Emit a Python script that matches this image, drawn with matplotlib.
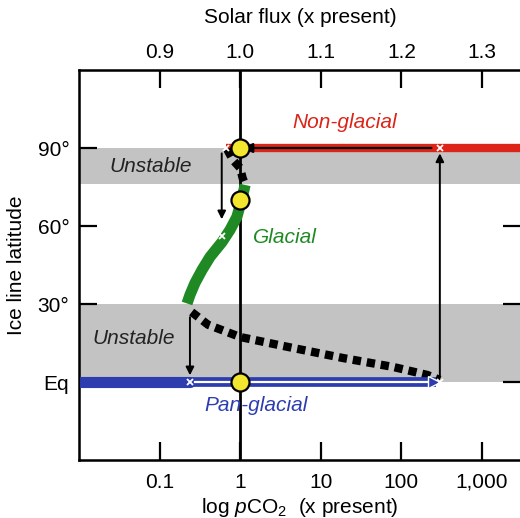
import numpy as np
import matplotlib
matplotlib.use("Agg")
import matplotlib.pyplot as plt

plt.rcParams['font.family'] = ['Liberation Sans', 'DejaVu Sans']
plt.rcParams['mathtext.fontset'] = 'custom'
plt.rcParams['mathtext.rm'] = 'Liberation Sans'
plt.rcParams['mathtext.it'] = 'Liberation Sans:italic'

# data (pCO2 in x present, latitude in degrees)
glacial_co2 = [1.15, 1.05, 0.91, 0.747, 0.594, 0.422, 0.336, 0.275, 0.238, 0.219]
glacial_lat = [75.8, 70.4, 63.5, 58.5, 53.8, 48.1, 43.1, 38.1, 33.5, 30.2]

unst_hi_co2 = [0.69, 0.81, 1.0, 1.07, 1.15]
unst_hi_lat = [89.5, 85.4, 82.3, 78.5, 76]

unst_lo_co2 = [0.25, 0.4, 1.0, 4.5, 19, 79, 210, 300]
unst_lo_lat = [26.9, 22, 17.3, 13.1, 9.2, 5.8, 2.7, 0.8]

co2_low_jump = 0.238    # glacial -> pan-glacial
co2_high_jump = 300     # pan-glacial -> non-glacial
co2_hi_drop = 0.59      # non-glacial -> glacial

present_co2 = [1, 1, 1]
present_lat = [90, 70, 0]

co2_ticks = [0.1, 1, 10, 100, 1000]
co2_labels = ['0.1', '1', '10', '100', '1,000']
flux_ticks = [0.9, 1.0, 1.1, 1.2, 1.3]
lat_ticks = [0, 30, 60, 90]
lat_labels = ['Eq', '30°', '60°', '90°']

red = '#dc2418'
green = '#1f8a24'
blue = '#2d3db0'
gray = '#c3c3c3'
yellow = '#f3e62e'

xmin, xmax = 0.01, 10 ** 3.484

fig = plt.figure(figsize=(5.2, 5.18), dpi=100)
ax = fig.add_axes([79 / 520, 58 / 518, 442 / 520, 390 / 518])
ax.set_xscale('log')
ax.set_xlim(xmin, xmax)
ax.set_ylim(-30, 120)

ax.axhspan(76, 90, color=gray, zorder=0, lw=0)
ax.axhspan(0, 30, color=gray, zorder=0, lw=0)

ax.axvline(1, color='black', lw=2, zorder=2)

# non-glacial branch
ax.plot([0.66, xmax], [90, 90], color=red, lw=6, solid_capstyle='butt', zorder=3)
ax.annotate('', xy=(1, 90), xytext=(co2_high_jump * 0.85, 90),
            arrowprops=dict(arrowstyle='-|>', color='black', lw=1.6,
                            mutation_scale=14), zorder=4)

# glacial branch
ax.plot(glacial_co2, glacial_lat, color=green, lw=8, solid_capstyle='butt', zorder=3)

# unstable branches
ax.plot(unst_hi_co2, unst_hi_lat, color='black', lw=6, ls=(0, (1, 0.7)),
        dash_capstyle='butt', zorder=3)
ax.plot(unst_lo_co2, unst_lo_lat, color='black', lw=6, ls=(0, (1, 0.7)),
        dash_capstyle='butt', zorder=3)

# pan-glacial branch
ax.plot([xmin, co2_low_jump], [0, 0], color=blue, lw=8, solid_capstyle='round', zorder=3)
ax.plot([co2_low_jump, co2_high_jump * 0.9], [0, 0], color=blue, lw=7,
        solid_capstyle='butt', zorder=3)
ax.plot([co2_low_jump * 1.15, co2_high_jump * 0.8], [0, 0], color='white', lw=1.6, zorder=3)
ax.plot([co2_high_jump * 0.85], [0], marker='>', color=blue, ms=9, mec='white', mew=1, zorder=3)

# jumps
ax.annotate('', xy=(co2_low_jump, 1.5), xytext=(co2_low_jump, 26),
            arrowprops=dict(arrowstyle='-|>', color='black', lw=1.4, mutation_scale=12),
            zorder=4)
ax.annotate('', xy=(co2_hi_drop, 61.5), xytext=(co2_hi_drop, 89),
            arrowprops=dict(arrowstyle='-|>', color='black', lw=1.4, mutation_scale=12),
            zorder=4)
ax.annotate('', xy=(co2_high_jump, 89), xytext=(co2_high_jump, 1),
            arrowprops=dict(arrowstyle='-|>', color='black', lw=1.4, mutation_scale=12),
            zorder=4)

# bifurcation points
ax.plot([co2_low_jump, co2_high_jump, 0.66, co2_high_jump, 0.594],
        [0, 0, 90, 90, 56], ls='none', marker='x', color='white', ms=5, mew=1.3, zorder=5)

ax.plot(present_co2, present_lat, ls='none', marker='o', ms=13, mfc=yellow,
        mec='black', mew=1.6, zorder=6)

ax.text(20, 100, 'Non-glacial', color=red, fontsize=15, style='italic', ha='center', va='center')
ax.text(0.078, 83, 'Unstable', color='#222222', fontsize=15, style='italic', ha='center', va='center')
ax.text(3.6, 55.4, 'Glacial', color=green, fontsize=15, style='italic', ha='center', va='center')
ax.text(0.048, 16.9, 'Unstable', color='#222222', fontsize=15, style='italic', ha='center', va='center')
ax.text(1.57, -9.2, 'Pan-glacial', color=blue, fontsize=15, style='italic', ha='center', va='center')

ax.set_xticks(co2_ticks)
ax.set_xticklabels(co2_labels)
ax.xaxis.set_minor_locator(matplotlib.ticker.NullLocator())
ax.set_yticks(lat_ticks)
ax.set_yticklabels(lat_labels)
ax.tick_params(axis='both', direction='in', length=13, width=1.6, labelsize=15,
               right=True, pad=7)
ax.tick_params(axis='x', pad=9)
for s in ax.spines.values():
    s.set_linewidth(1.8)

ax.set_xlabel('log $\\mathit{p}$CO$_2$  (x present)', fontsize=15, labelpad=3)
ax.set_ylabel('Ice line latitude', fontsize=15, labelpad=8)

top = ax.twiny()
top.set_xlim(1 + 0.1 * np.log10(xmin), 1 + 0.1 * np.log10(xmax))
top.set_xticks(flux_ticks)
top.set_xticklabels(['%.1f' % f for f in flux_ticks])
top.tick_params(axis='x', direction='in', length=13, width=1.6, labelsize=15, pad=6)
top.set_xlabel('Solar flux (x present)', fontsize=15, labelpad=14)

fig.savefig('out.png', dpi=100)
